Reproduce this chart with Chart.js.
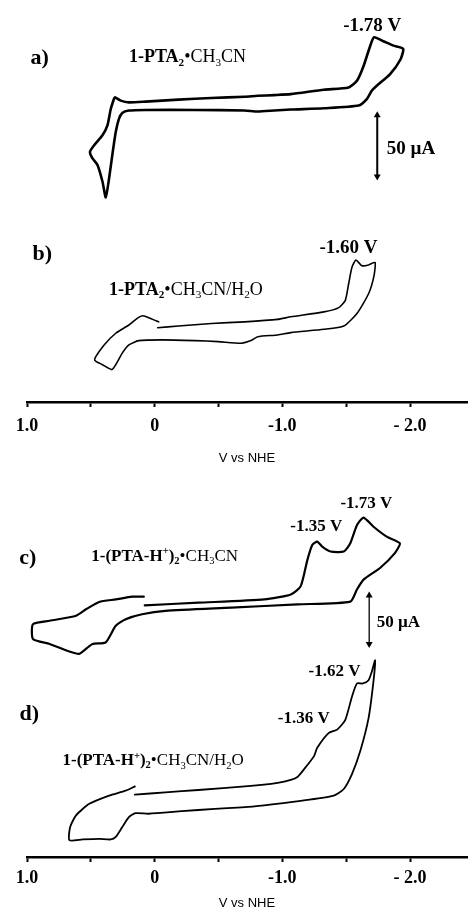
<!DOCTYPE html>
<html><head><meta charset="utf-8">
<script src="https://cdn.jsdelivr.net/npm/chart.js@4.4.0/dist/chart.umd.min.js"></script>
<style>
html,body{margin:0;padding:0;background:#fff;width:471px;height:913px;overflow:hidden}
canvas{position:absolute;left:0}
#c1{top:0}
#c2{top:470px}
</style></head><body>
<canvas id="c1" width="471" height="470"></canvas>
<canvas id="c2" width="471" height="443"></canvas>
<script>
// ---- axis ticks ----
const tickValues = [1.0, 0.5, 0, -0.5, -1.0, -1.5, -2.0];
const tickLabels = ['1.0', '', '0', '', '-1.0', '', '- 2.0'];
const axisTitle = 'V vs NHE';

// ---- trace a) 1-PTA2 in CH3CN : potential (V) / current (µA) ----
const potA = [0.311,0.266,0.202,0.072,-0.186,-0.443,-0.704,-0.807,-0.937,-1.066,-1.325,-1.519,-1.584,-1.636,-1.687,-1.718,-1.791,-1.869,-1.946,-1.925,-1.842,-1.739,-1.700,-1.661,-1.597,-1.325,-1.066,-0.937,-0.807,-0.704,-0.316,0.072,0.202,0.254,0.280,0.305,0.332,0.357,0.383,0.409,0.448,0.487,0.507,0.474,0.409,0.370,0.344,0.318];
const curA = [248.1,245.5,244.1,244.7,246.3,247.6,248.7,249.4,250.0,250.8,254.4,256.2,261.6,273.7,289.8,297.1,293.9,290.3,287.7,279.0,266.9,257.6,253.5,246.8,241.5,239.3,238.2,237.4,236.6,237.4,237.9,237.9,237.4,235.5,230.6,219.9,201.1,182.3,166.7,179.6,193.1,198.4,203.8,209.2,217.3,225.3,238.7,247.3];

// ---- trace b) 1-PTA2 in CH3CN/H2O ----
const potB = [-0.023,-0.186,-0.445,-0.704,-0.963,-1.066,-1.325,-1.442,-1.493,-1.519,-1.545,-1.576,-1.623,-1.675,-1.726,-1.718,-1.675,-1.584,-1.481,-1.325,-1.066,-0.963,-0.807,-0.755,-0.678,-0.497,-0.316,-0.057,0.124,0.202,0.254,0.305,0.336,0.409,0.468,0.460,0.396,0.305,0.202,0.137,0.093,0.033,-0.031];
const curB = [60.5,61.9,64.0,65.3,67.3,69.4,73.4,76.9,82.8,96.3,109.7,115.6,111.0,111.6,113.7,103.0,88.2,72.1,61.9,59.2,56.5,54.6,53.2,50.0,47.9,49.2,50.0,50.6,50.0,46.5,39.8,30.4,26.4,30.4,33.9,37.1,46.5,56.0,62.7,68.1,70.2,68.1,65.3];

// ---- trace c) 1-(PTA-H+)2 in CH3CN ----
const potC = [0.078,-0.342,-0.859,-1.066,-1.144,-1.196,-1.234,-1.273,-1.312,-1.377,-1.481,-1.532,-1.584,-1.636,-1.714,-1.817,-1.920,-1.881,-1.765,-1.636,-1.584,-1.532,-1.118,-0.600,-0.083,0.099,0.227,0.305,0.383,0.487,0.538,0.590,0.668,0.823,0.953,0.953,0.823,0.616,0.538,0.435,0.305,0.176,0.085];
const curC = [259.5,262.2,265.6,270.7,279.3,306.4,321.7,325.2,320.1,315.0,315.0,323.5,342.1,350.0,340.5,330.3,323.5,313.3,298.0,286.0,275.8,263.3,260.5,257.1,253.8,250.3,245.2,238.5,221.4,219.7,214.6,209.5,211.9,219.7,224.8,240.1,243.6,248.7,255.4,263.0,265.6,268.4,268.4];

// ---- trace d) 1-(PTA-H+)2 in CH3CN/H2O ----
const potD = [0.155,-0.083,-0.342,-0.730,-0.963,-1.066,-1.118,-1.170,-1.248,-1.273,-1.364,-1.429,-1.493,-1.545,-1.584,-1.630,-1.675,-1.700,-1.726,-1.713,-1.675,-1.610,-1.545,-1.481,-1.403,-1.196,-0.780,-0.471,-0.212,0.047,0.150,0.202,0.254,0.305,0.344,0.435,0.564,0.668,0.662,0.616,0.512,0.357,0.227,0.155];
const curD = [64.3,66.6,69.1,73.0,76.5,79.5,82.5,90.5,104.0,112.6,127.9,131.3,141.5,165.3,178.9,178.9,182.3,190.8,202.8,180.6,143.2,109.2,85.4,70.1,63.3,58.9,52.2,49.7,47.2,44.6,45.2,41.1,30.9,20.7,18.1,18.7,18.1,17.3,30.9,42.9,54.8,63.3,68.4,72.8];

// ---- 50 µA scale bars ----
const barTopV = [-1.743, -1.743];
const barTopI = [183.6, 233.6];
const barBotV = [-1.68, -1.68];
const barBotI = [219.7, 269.7];

const SERIF = "'Liberation Serif','Times New Roman',serif";

function pts(v, i) { return v.map((x, k) => ({x: x, y: i[k]})); }

function trace(v, i, w) {
  return {data: pts(v, i), showLine: true, borderColor: '#000', borderWidth: w,
          pointRadius: 0, fill: false, tension: 0.2, borderCapStyle: 'round', borderJoinStyle: 'round'};
}
function bar(v, i, w) {
  return {data: pts(v, i), showLine: true, borderColor: '#000', borderWidth: w,
          pointStyle: 'triangle', pointRadius: 4, pointRotation: [180, 0],
          pointBackgroundColor: '#000', pointBorderColor: '#000', pointBorderWidth: 0, fill: false};
}

const annotPlugin = {
  id: 'annot',
  afterDatasetsDraw(chart, args, opts) {
    const ctx = chart.ctx, xs = chart.scales.x, ys = chart.scales.y;
    ctx.save();
    ctx.fillStyle = '#000';
    ctx.textBaseline = 'middle';
    for (const a of opts.items) {
      const px = xs.getPixelForValue(a.v), py = ys.getPixelForValue(a.i);
      const runs = a.runs.map(([txt, st]) => {
        const small = st.indexOf('sub') >= 0 || st.indexOf('sup') >= 0;
        const bold = st[0] === 'b';
        const sz = small ? a.size * 0.62 : a.size;
        const font = (bold ? 'bold ' : '') + sz + 'px ' + SERIF;
        ctx.font = font;
        const dy = st.indexOf('sub') >= 0 ? a.size * 0.28 : (st.indexOf('sup') >= 0 ? -a.size * 0.3 : 0);
        return {txt, font, w: ctx.measureText(txt).width, dy};
      });
      const total = runs.reduce((s, r) => s + r.w, 0);
      let x = a.align === 'left' ? px : px - total / 2;
      ctx.textAlign = 'left';
      for (const r of runs) {
        ctx.font = r.font;
        ctx.fillText(r.txt, x, py + r.dy);
        x += r.w;
      }
    }
    ctx.restore();
  }
};

function makeChart(id, cfg) {
  return new Chart(document.getElementById(id), {
    type: 'scatter',
    data: {datasets: cfg.datasets},
    options: {
      responsive: false, animation: false, devicePixelRatio: 1,
      layout: {padding: {left: 27, right: 0, top: 0, bottom: 0}},
      plugins: {legend: {display: false}, tooltip: {enabled: false}, annot: {items: cfg.annots}},
      scales: {
        x: {
          type: 'linear', reverse: true, min: -2.446, max: 1.0,
          afterBuildTicks: (s) => { s.ticks = tickValues.map(v => ({value: v})); },
          afterFit: (s) => { s.height = cfg.axisHeight; },
          ticks: {
            callback: (v) => { const k = tickValues.findIndex(t => Math.abs(t - v) < 1e-9); return k >= 0 ? tickLabels[k] : ''; },
            color: '#000', font: {family: SERIF, size: 18, weight: 'bold'}, padding: cfg.tickPad,
            maxRotation: 0, autoSkip: false
          },
          grid: {drawOnChartArea: false, drawTicks: true, tickLength: 5, tickWidth: 2, tickColor: '#000'},
          border: {display: true, color: '#000', width: 2.5},
          title: {display: true, text: axisTitle, color: '#000',
                  font: {family: "'Liberation Sans',Arial,sans-serif", size: 13},
                  padding: {top: 0, bottom: cfg.titlePad}}
        },
        y: {display: false, min: 0, max: cfg.yMax}
      }
    },
    plugins: [annotPlugin]
  });
}

makeChart('c1', {
  axisHeight: 68, titlePad: 4, tickPad: 9, yMax: 402 / 1.24,
  datasets: [trace(potA, curA, 2.6), trace(potB, curB, 1.6), bar(barTopV, barTopI, 2)],
  annots: [
    {runs: [['a)', 'b']], v: 0.90, i: 279.6, size: 22, align: 'center'},
    {runs: [['1-PTA', 'b'], ['2', 'bsub'], ['\u2022CH', 'n'], ['3', 'nsub'], ['CN', 'n']], v: 0.202, i: 280.4, size: 18, align: 'left'},
    {runs: [['-1.78 V', 'b']], v: -1.704, i: 306.2, size: 19, align: 'center'},
    {runs: [['50 \u00b5A', 'b']], v: -1.817, i: 206.2, size: 19, align: 'left'},
    {runs: [['b)', 'b']], v: 0.881, i: 119.9, size: 22, align: 'center'},
    {runs: [['1-PTA', 'b'], ['2', 'bsub'], ['\u2022CH', 'n'], ['3', 'nsub'], ['CN/H', 'n'], ['2', 'nsub'], ['O', 'n']], v: 0.357, i: 90.9, size: 18, align: 'left'},
    {runs: [['-1.60 V', 'b']], v: -1.518, i: 125.6, size: 19, align: 'center'}
  ]
});

makeChart('c2', {
  axisHeight: 56, titlePad: 2, tickPad: 6, yMax: 387 / 0.98,
  datasets: [trace(potC, curC, 2.2), trace(potD, curD, 1.8), bar(barBotV, barBotI, 1.3)],
  annots: [
    {runs: [['c)', 'b']], v: 0.994, i: 308.2, size: 22, align: 'center'},
    {runs: [['1-(PTA-H', 'b'], ['+', 'bsup'], [')', 'b'], ['2', 'bsub'], ['\u2022CH', 'n'], ['3', 'nsub'], ['CN', 'n']], v: 0.497, i: 310.2, size: 17, align: 'left'},
    {runs: [['-1.35 V', 'b']], v: -1.266, i: 340.8, size: 17, align: 'center'},
    {runs: [['-1.73 V', 'b']], v: -1.658, i: 364.3, size: 17, align: 'center'},
    {runs: [['50 \u00b5A', 'b']], v: -1.739, i: 241.8, size: 17, align: 'left'},
    {runs: [['d)', 'b']], v: 0.982, i: 146.9, size: 22, align: 'center'},
    {runs: [['1-(PTA-H', 'b'], ['+', 'bsup'], [')', 'b'], ['2', 'bsub'], ['\u2022CH', 'n'], ['3', 'nsub'], ['CN/H', 'n'], ['2', 'nsub'], ['O', 'n']], v: 0.722, i: 99.0, size: 17, align: 'left'},
    {runs: [['-1.36 V', 'b']], v: -1.168, i: 142.9, size: 17, align: 'center'},
    {runs: [['-1.62 V', 'b']], v: -1.409, i: 190.8, size: 17, align: 'center'}
  ]
});
</script>
</body></html>
